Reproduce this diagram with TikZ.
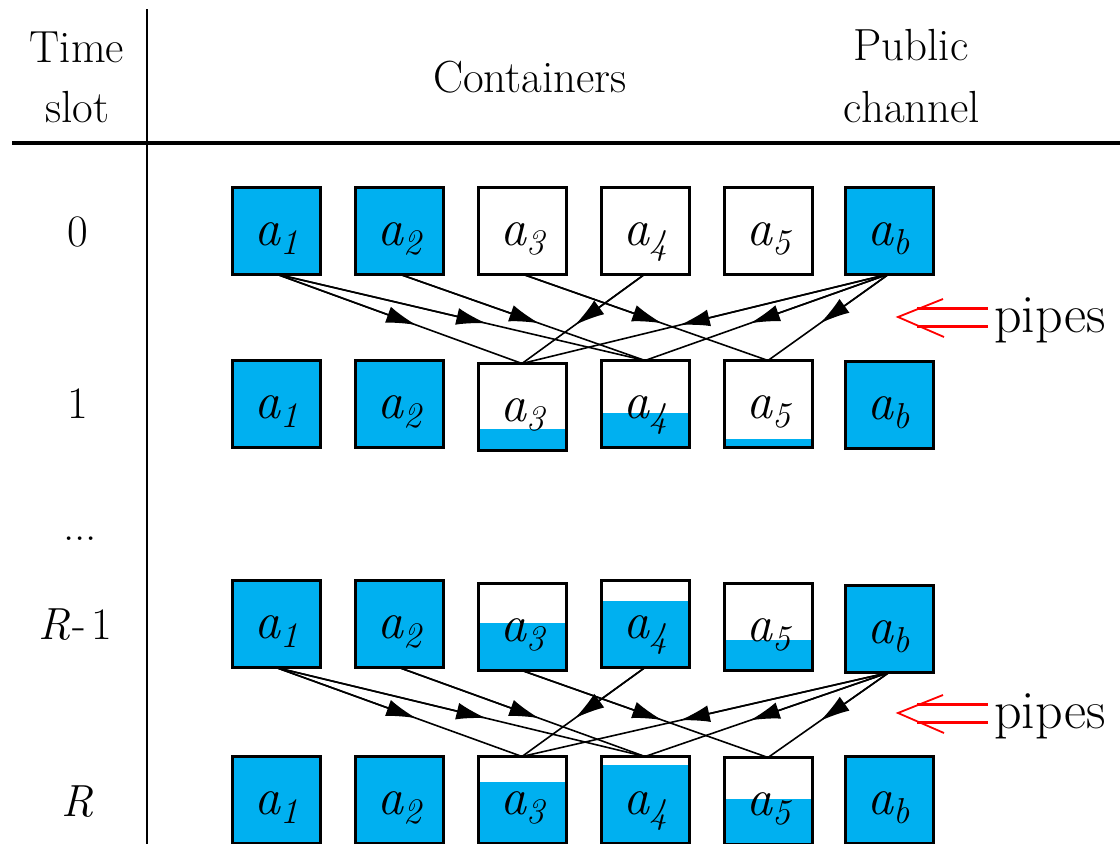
\documentclass[tikz,border=0pt]{standalone}
\usetikzlibrary{arrows.meta,calc}
\definecolor{cblue}{RGB}{0,176,240}
\newcommand\boxlab[1]{a\raisebox{-9pt}{\fontsize{36}{36}\selectfont #1}}
\begin{document}
\begin{tikzpicture}[x=1pt,y=-1pt,
  box/.style={draw=black, line width=3pt, minimum width=88pt, minimum height=87pt,
    inner sep=0pt, outer sep=0pt, text height=29pt, text depth=0pt,
    font=\fontsize{52}{52}\selectfont\itshape},
  full/.style={box, fill=cblue},
  lvl/.style={box, path picture={\fill[cblue] (path picture bounding box.south west)
    rectangle ([yshift=#1*87pt]path picture bounding box.south east);}},
  pipeline/.style={line width=1.6pt},
  pipetip/.style={line width=1.6pt, -{Latex[length=30pt,width=17pt]}},
  hdr/.style={font=\fontsize{45}{45}\selectfont, anchor=base, inner sep=0pt},
  pipetext/.style={font=\fontsize{54}{54}\selectfont, anchor=base west, inner sep=0pt},
  redarrow/.style={red, line width=3pt},
  redhead/.style={red, line width=1.8pt, line join=miter},
]
\useasboundingbox (0,0) rectangle (1120,844);
\fill[white] (0,0) rectangle (1120,844);

% header
\draw[line width=4pt] (12,143) -- (1120,143);
\draw[line width=2.5pt] (147,9) -- (147,844);
\node[hdr] (h1) at (77,62) {Time};
\node[hdr] (h2) at (77,122) {slot};
\node[hdr] (h3) at (530,92) {Containers};
\node[hdr] (h4) at (911,60) {Public};
\node[hdr] (h5) at (912,122) {channel};

% row labels
\node[hdr] (t0) at (78,246) {0};
\node[hdr] (t1) at (78,418) {1};
\node[hdr] (t2) at (80,540) {...};
\node[hdr] (t3) at (75,639) {\textit{R}\kern2pt-\kern5pt1};
\node[hdr] (t4) at (78,816) {\textit{R}};

% row 0
\node[full] (A1) at (276,230.5) {\boxlab{1}};
\node[full] (A2) at (399,230.5) {\boxlab{2}};
\node[box]  (A3) at (522,230.5) {\boxlab{3}};
\node[box]  (A4) at (645,230.5) {\boxlab{4}};
\node[box]  (A5) at (768,230.5) {\boxlab{5}};
\node[full] (A6) at (889,230.5) {\boxlab{b}};
% row 1
\node[full] (B1) at (276,404) {\boxlab{1}};
\node[full] (B2) at (399,404) {\boxlab{2}};
\node[lvl=0.25] (B3) at (522,407) {\boxlab{3}};
\node[lvl=0.40] (B4) at (645,404) {\boxlab{4}};
\node[lvl=0.10] (B5) at (768,404) {\boxlab{5}};
\node[full] (B6) at (889,405) {\boxlab{b}};
% row R-1
\node[full] (C1) at (276,624) {\boxlab{1}};
\node[full] (C2) at (399,624) {\boxlab{2}};
\node[lvl=0.55] (C3) at (522,627) {\boxlab{3}};
\node[lvl=0.77] (C4) at (645,624) {\boxlab{4}};
\node[lvl=0.35] (C5) at (768,627) {\boxlab{5}};
\node[full] (C6) at (889,629) {\boxlab{b}};
% row R
\node[full] (D1) at (276,800) {\boxlab{1}};
\node[full] (D2) at (399,800) {\boxlab{2}};
\node[lvl=0.71] (D3) at (522,800) {\boxlab{3}};
\node[lvl=0.90] (D4) at (645,800) {\boxlab{4}};
\node[lvl=0.52] (D5) at (768,801) {\boxlab{5}};
\node[full] (D6) at (889,800) {\boxlab{b}};

% pipes
\foreach \u/\v in {A/B, C/D}{
  \foreach \s/\t in {1/3, 1/4, 2/4, 3/5, 4/3, 6/3, 6/4, 6/5}{
    \draw[pipeline] (\u\s.south) -- (\v\t.north);
    \draw[pipetip] (\u\s.south) -- ($(\u\s.south)!0.57!(\v\t.north)$);
  }
}

% pipes labels
\node[pipetext] (p1) at (994,332) {pipes};
\draw[redarrow] (917,308) -- (988,308) (917,326) -- (988,326);
\draw[redhead] (943,299) -- (898,317) -- (944,337);
\node[pipetext] (p2) at (994,728) {pipes};
\draw[redarrow] (917,704) -- (988,704) (917,722) -- (988,722);
\draw[redhead] (943,695) -- (898,713) -- (944,733);
\end{tikzpicture}
\end{document}
